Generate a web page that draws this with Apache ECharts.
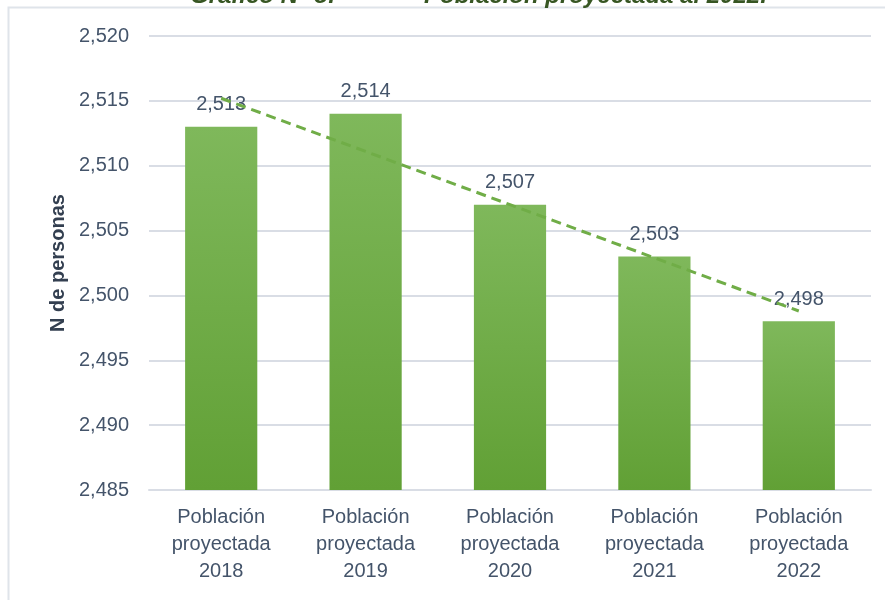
<!DOCTYPE html>
<html>
<head>
<meta charset="utf-8">
<script src="https://cdn.jsdelivr.net/npm/echarts@6/dist/echarts.min.js"></script>
<style>
  html, body { margin: 0; padding: 0; background: #fff; }
  #chart { width: 885px; height: 600px; }
</style>
</head>
<body>
<div id="chart"></div>
<script>
var myChart = echarts.init(document.getElementById('chart'));

//data
var categories = ['Población\nproyectada\n2018', 'Población\nproyectada\n2019', 'Población\nproyectada\n2020', 'Población\nproyectada\n2021', 'Población\nproyectada\n2022'];
var personas = [2513, 2514, 2507, 2503, 2498];
var tendencia = [2515.2, 2511.1, 2507.0, 2502.9, 2498.8];
var yTicks = [2485, 2490, 2495, 2500, 2505, 2510, 2515, 2520];

var txtColor = '#44546a';
var narrow = '"Liberation Sans Narrow", "Arial Narrow", "Liberation Sans", sans-serif';
var titleStyle = {
    fill: '#375623',
    fontSize: 24,
    fontStyle: 'italic',
    fontWeight: 'bold',
    fontFamily: 'Arial, "Liberation Sans", sans-serif',
    verticalAlign: 'bottom'
};

function fmt(v) {
    return String(v).replace(/\B(?=(\d{3})+(?!\d))/g, ',');
}

option = {
    animation: false,
    graphic: [{
        type: 'polyline',
        shape: { points: [[8.5, 600], [8.5, 7.5], [885, 7.5]] },
        style: { stroke: '#dfe4ea', lineWidth: 2, fill: null },
        silent: true
    }, {
        //title, cut off at the top of the picture
        type: 'text',
        left: 190,
        top: -16,
        style: Object.assign({ text: 'Gráfico N° 8:' }, titleStyle),
        silent: true
    }, {
        type: 'text',
        left: 424,
        top: -16,
        style: Object.assign({ text: 'Población proyectada al 2022.' }, titleStyle),
        silent: true
    }],
    grid: {
        left: 149,
        right: 14,
        top: 36,
        bottom: 110
    },
    xAxis: {
        type: 'category',
        data: categories,
        axisLine: { lineStyle: { color: '#d9dde5', width: 2 } },
        axisTick: { show: false },
        axisLabel: {
            color: txtColor,
            fontSize: 20,
            fontFamily: narrow,
            lineHeight: 27,
            margin: 14,
            interval: 0
        }
    },
    yAxis: {
        type: 'value',
        min: yTicks[0],
        max: yTicks[yTicks.length - 1],
        interval: 5,
        name: 'N de personas',
        nameLocation: 'middle',
        nameGap: 80,
        nameRotate: 90,
        nameTextStyle: {
            color: '#333f50',
            fontSize: 20,
            fontWeight: 'bold',
            fontFamily: 'Arial, "Liberation Sans", sans-serif'
        },
        axisLine: { show: false },
        axisTick: { show: false },
        splitLine: { lineStyle: { color: '#d9dde5', width: 2 } },
        axisLabel: {
            color: txtColor,
            fontSize: 20,
            fontFamily: narrow,
            margin: 20,
            formatter: function (v) { return fmt(v); }
        }
    },
    series: [{
        name: 'Población',
        type: 'bar',
        data: personas,
        barWidth: '50%',
        itemStyle: {
            color: new echarts.graphic.LinearGradient(0, 0, 0, 1, [
                { offset: 0, color: '#7fb85b' },
                { offset: 1, color: '#61a035' }
            ])
        },
        label: {
            show: true,
            position: 'top',
            distance: 12,
            color: txtColor,
            fontSize: 20,
            fontFamily: narrow,
            formatter: function (p) { return fmt(p.value); }
        },
        z: 2
    }, {
        name: 'Tendencia',
        type: 'line',
        data: tendencia,
        symbol: 'none',
        lineStyle: { color: '#70ad47', width: 3, type: [10, 6] },
        z: 3
    }]
};

myChart.setOption(option);
</script>
</body>
</html>
